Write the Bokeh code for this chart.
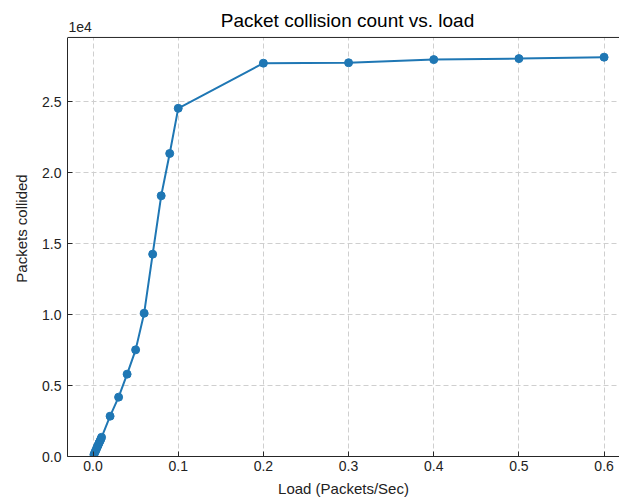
from bokeh.plotting import figure
from bokeh.models import (Range1d, Span, Label, BoxAnnotation,
                          CustomJSTickFormatter, FixedTicker)
from bokeh.embed import file_html
from bokeh.resources import INLINE

# Offered load (packets/sec) and packets that collided at each load
load = [0.001, 0.002, 0.003, 0.004, 0.005, 0.006, 0.007, 0.008, 0.009, 0.01,
        0.02, 0.03, 0.04, 0.05, 0.06, 0.07, 0.08, 0.09, 0.1,
        0.2, 0.3, 0.4, 0.5, 0.6]
collided = [130, 270, 400, 530, 680, 800, 950, 1070, 1200, 1350,
            2840, 4180, 5800, 7510, 10090, 14250, 18360, 21340, 24520,
            27700, 27730, 27950, 28020, 28120]

x_ticks = [0.0, 0.1, 0.2, 0.3, 0.4, 0.5, 0.6]
y_ticks = [0, 5000, 10000, 15000, 20000, 25000]

FONT = "Liberation Sans"
BLUE = "#1f77b4"
AXIS = "#262626"
Y_TOP = 29510      # top of the axes box
Y_CANVAS = 32113   # top of the drawing area (title strip lives above the box)
FRAME_H = 456

p = figure(width=619, height=500, output_backend="svg", toolbar_location=None,
           x_range=Range1d(-0.03, 0.6181), y_range=Range1d(0, Y_CANVAS),
           min_border_left=67, min_border_right=0, min_border_top=0,
           min_border_bottom=44)

p.outline_line_color = None
p.background_fill_color = "white"
p.border_fill_color = "white"

for ax in (p.xaxis[0], p.yaxis[0]):
    ax.axis_line_color = AXIS
    ax.axis_line_width = 1
    ax.major_tick_in = 5
    ax.major_tick_out = 0
    ax.major_tick_line_color = AXIS
    ax.minor_tick_line_color = None
    ax.major_label_text_font = FONT
    ax.major_label_text_font_size = "14px"
    ax.major_label_text_color = "#222222"
    ax.axis_label_text_font = FONT
    ax.axis_label_text_font_size = "15px"
    ax.axis_label_text_font_style = "normal"
    ax.axis_label_text_color = "#222222"

p.yaxis.bounds = (0, Y_TOP)
p.xaxis.ticker = FixedTicker(ticks=x_ticks)
p.yaxis.ticker = FixedTicker(ticks=y_ticks)
p.xaxis.formatter = CustomJSTickFormatter(code="return tick.toFixed(1);")
p.yaxis.formatter = CustomJSTickFormatter(code="return (tick / 1e4).toFixed(1);")
p.xaxis.major_label_standoff = 4
p.yaxis.major_label_standoff = 6
p.xaxis.axis_label = "Load (Packets/Sec)"
p.yaxis.axis_label = "Packets collided"
p.xaxis.axis_label_standoff = 6
p.yaxis.axis_label_standoff = 9

p.grid.grid_line_color = "#cfcfcf"
p.grid.grid_line_dash = "5 3"
p.grid.grid_line_width = 1

p.line(load, collided, line_color=BLUE, line_width=2)
p.scatter(load, collided, size=8, fill_color=BLUE, line_color=BLUE)

# blank strip above the axes box, holding the title and the scale factor
p.add_layout(BoxAnnotation(bottom=Y_TOP, fill_color="white", fill_alpha=1.0,
                           line_color=None))
# top spine of the axes box
p.add_layout(Span(location=Y_TOP, dimension="width", line_color=AXIS, line_width=1))

p.add_layout(Label(x=280, y=FRAME_H - 20, x_units="screen", y_units="screen",
                   text="Packet collision count vs. load",
                   text_font=FONT, text_font_size="19px", text_color="#000000",
                   text_align="center", text_baseline="middle"))
p.add_layout(Label(x=1, y=FRAME_H - 26, x_units="screen", y_units="screen",
                   text="1e4",
                   text_font=FONT, text_font_size="14px", text_color="#222222",
                   text_align="left", text_baseline="middle"))

open("out.html", "w").write(file_html(p, INLINE))
